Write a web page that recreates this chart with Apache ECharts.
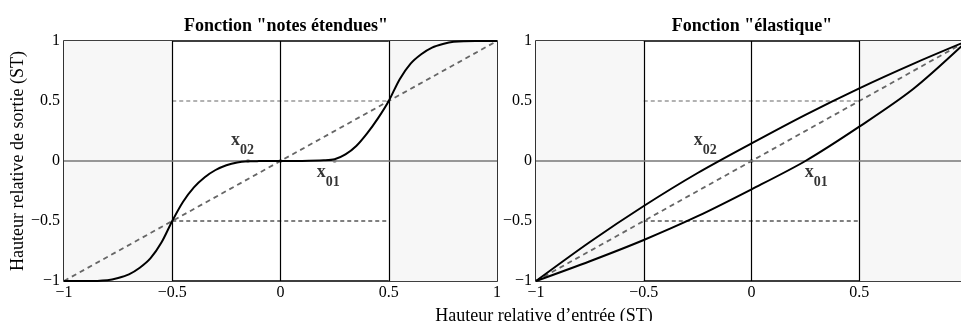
<!DOCTYPE html>
<html>
<head>
<meta charset="utf-8">
<script src="https://cdn.jsdelivr.net/npm/echarts@6/dist/echarts.min.js"></script>
<style>
html,body{margin:0;padding:0;background:#fff;}
#c{width:961px;height:321px;}
</style>
</head>
<body>
<div id="c"></div>
<script>
// ---- data ----
const tickValues = [-1, -0.5, 0, 0.5, 1];
const titles = ['Fonction "notes étendues"', 'Fonction "élastique"'];
const xName = 'Hauteur relative d\u2019entrée (ST)';
const yName = 'Hauteur relative de sortie (ST)';

const notesX = [-1, -0.9, -0.8, -0.75, -0.7, -0.65, -0.6, -0.55, -0.5, -0.45, -0.4, -0.35, -0.3, -0.25, -0.2, -0.15, -0.1, 0, 0.1, 0.2, 0.25, 0.3, 0.35, 0.4, 0.45, 0.5, 0.55, 0.6, 0.65, 0.7, 0.75, 0.8, 0.9, 1];
const notesY = [-1, -1, -0.993, -0.975, -0.945, -0.89, -0.81, -0.68, -0.5, -0.34, -0.22, -0.135, -0.075, -0.035, -0.012, -0.003, -0.001, 0, 0.001, 0.006, 0.015, 0.055, 0.125, 0.23, 0.355, 0.5, 0.68, 0.81, 0.89, 0.945, 0.975, 0.993, 1, 1];

const elasticX = [-1, -0.75, -0.5, -0.25, 0, 0.25, 0.5, 0.75, 1];
const elasticUpperY = [-1, -0.675, -0.375, -0.1, 0.147, 0.385, 0.606, 0.81, 1];
const elasticLowerY = [-1, -0.835, -0.658, -0.46, -0.236, 0.0, 0.286, 0.6, 1];

const identity = [[-1, -1], [1, 1]];
const refHigh = [[-0.5, 0.5], [0.5, 0.5]];
const refLow = [[-0.5, -0.5], [0.5, -0.5]];
const smallMarks = [[[-0.15, 0], [0, 0], [0.25, 0]], [[0, 0]]];
const labelSpots = [
  [{t: '02', p: [-0.175, 0.135]}, {t: '01', p: [0.22, -0.125]}],
  [{t: '02', p: [-0.215, 0.135]}, {t: '01', p: [0.3, -0.125]}]
];

// ---- chart ----
const FONT = 'Liberation Serif';
const zip = (a, b) => a.map((v, i) => [v, b[i]]);
const fmt = v => String(v).replace('-', '\u2212');

const grids = [
  {left: 64, top: 41, width: 433, height: 240},
  {left: 536, top: 41, right: -1, height: 240}
].map(g => Object.assign(g, {show: true, borderColor: '#000', borderWidth: 1.6, backgroundColor: '#fff', containLabel: false}));
const xMax = [1, 0.972];

const mkX = i => ({
  type: 'value', gridIndex: i, min: -1, max: xMax[i], interval: 0.5,
  axisLine: {show: false}, axisTick: {show: false}, splitLine: {show: false},
  axisLabel: {formatter: fmt, fontFamily: FONT, fontSize: 16, color: '#000', margin: 4,
    showMinLabel: true, showMaxLabel: i === 0}
});
const mkY = i => ({
  type: 'value', gridIndex: i, min: -1, max: 1, interval: 0.5,
  axisLine: {show: false}, axisTick: {show: false}, splitLine: {show: false},
  axisLabel: {formatter: fmt, fontFamily: FONT, fontSize: 16, color: '#000', margin: 4},
  name: i === 0 ? yName : '', nameLocation: 'middle', nameGap: 36,
  nameTextStyle: {fontFamily: FONT, fontSize: 18, color: '#000'}
});

const series = [];
[0, 1].forEach(i => {
  series.push({
    type: 'line', xAxisIndex: i, yAxisIndex: i, data: [], silent: true,
    markArea: {silent: true, itemStyle: {color: '#f7f7f7'},
      data: [[{xAxis: -1}, {xAxis: -0.5}], [{xAxis: 0.5}, {xAxis: xMax[i]}]]},
    markLine: {silent: true, symbol: 'none', label: {show: false}, animation: false,
      data: [
        {xAxis: -0.5, lineStyle: {color: '#000', width: 1.2, type: 'solid'}},
        {xAxis: 0, lineStyle: {color: '#000', width: 1.2, type: 'solid'}},
        {xAxis: 0.5, lineStyle: {color: '#000', width: 1.2, type: 'solid'}},
        {yAxis: 0, lineStyle: {color: '#777', width: 1.5, type: 'solid'}}
      ]}
  });
  series.push({type: 'line', xAxisIndex: i, yAxisIndex: i, data: refHigh, symbol: 'none',
    lineStyle: {color: '#666', width: 1.2, type: [4, 3]}, silent: true, z: 3});
  series.push({type: 'line', xAxisIndex: i, yAxisIndex: i, data: refLow, symbol: 'none',
    lineStyle: {color: '#000', width: 1, type: [4, 3]}, silent: true, z: 3});
  series.push({type: 'line', xAxisIndex: i, yAxisIndex: i, data: identity, symbol: 'none',
    lineStyle: {color: '#666', width: 1.8, type: [5, 4]}, silent: true, z: 4});
  series.push({type: 'scatter', xAxisIndex: i, yAxisIndex: i, data: smallMarks[i], symbolSize: 4,
    itemStyle: {color: '#888'}, silent: true, z: 4});
  series.push({type: 'scatter', xAxisIndex: i, yAxisIndex: i, symbolSize: 0, silent: true, z: 6,
    data: labelSpots[i].map(s => ({value: s.p, sub: s.t})),
    label: {show: true, position: 'inside', formatter: p => '{a|x}{b|' + p.data.sub + '}',
      rich: {a: {fontFamily: FONT, fontWeight: 'bold', fontSize: 18, color: '#000', lineHeight: 16, verticalAlign: 'top'},
             b: {fontFamily: FONT, fontWeight: 'bold', fontSize: 14, color: '#000', lineHeight: 26, verticalAlign: 'bottom'}}}});
});
const curveStyle = {symbol: 'none', smooth: 0.3, lineStyle: {color: '#000', width: 2}, z: 5};
series.push(Object.assign({type: 'line', xAxisIndex: 0, yAxisIndex: 0, data: zip(notesX, notesY)}, curveStyle));
series.push(Object.assign({type: 'line', xAxisIndex: 1, yAxisIndex: 1, data: zip(elasticX, elasticUpperY)}, curveStyle));
series.push(Object.assign({type: 'line', xAxisIndex: 1, yAxisIndex: 1, data: zip(elasticX, elasticLowerY)}, curveStyle));

const chart = echarts.init(document.getElementById('c'), null, {renderer: 'canvas'});
chart.setOption({
  animation: false,
  backgroundColor: '#fff',
  title: [
    {text: titles[0], left: 281, top: 12, textAlign: 'center', textStyle: {fontFamily: FONT, fontWeight: 'bold', fontSize: 18, color: '#000'}},
    {text: titles[1], left: 747, top: 12, textAlign: 'center', textStyle: {fontFamily: FONT, fontWeight: 'bold', fontSize: 18, color: '#000'}},
    {text: xName, left: 539, top: 302, textAlign: 'center', textStyle: {fontFamily: FONT, fontWeight: 'normal', fontSize: 18, color: '#000'}}
  ],
  grid: grids,
  xAxis: [mkX(0), mkX(1)],
  yAxis: [mkY(0), mkY(1)],
  series: series
});
</script>
</body>
</html>
